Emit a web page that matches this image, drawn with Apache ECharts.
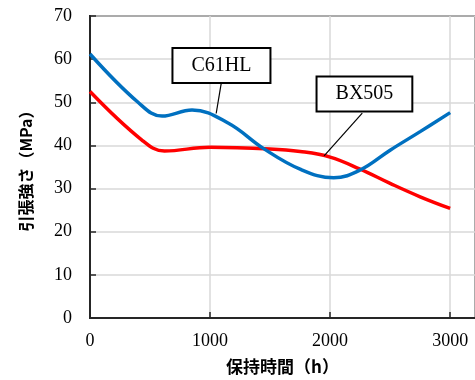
<!DOCTYPE html>
<html><head><meta charset="utf-8">
<script src="https://cdn.jsdelivr.net/npm/echarts@6/dist/echarts.min.js"></script>
<style>html,body{margin:0;padding:0;background:#fff}#c{width:475px;height:380px}</style>
</head><body><div id="c"></div>
<script>
var c61hlHours = [0, 400, 600, 850, 1150, 1450, 1750, 2030, 2250, 2500, 2750, 3000];
var c61hl      = [61.2, 50.0, 46.8, 48.2, 45.2, 39.2, 34.5, 32.5, 34.3, 38.9, 43.2, 47.6];
var bx505Hours = [0, 430, 620, 1000, 1500, 1750, 2000, 2250, 2500, 2750, 3000];
var bx505      = [52.5, 41.3, 38.7, 39.6, 39.2, 38.6, 37.3, 34.5, 31.2, 28.1, 25.4];
var seriesNames = ['C61HL', 'BX505'];
var xTicks = [0, 1000, 2000, 3000];
var yTicks = [0, 10, 20, 30, 40, 50, 60, 70];
var xTitle = '保持時間（h）';
var yTitle = '引張強さ（MPa）';
// callouts in data coordinates: box centre, leader start, leader end
var callouts = [
  {text: 'C61HL', box: [1095, 58.5], from: [1093, 54.4], to: [1051, 47.4]},
  {text: 'BX505', box: [2286, 51.9], from: [2268, 47.5], to: [1950, 37.6]}
];

var chart = echarts.init(document.getElementById('c'), null, {renderer: 'canvas'});
function pairs(xs, ys){ return xs.map(function(x,i){ return [x, ys[i]]; }); }
var serif = '"Liberation Serif", "Times New Roman", serif';
var sans = '"Noto Sans CJK JP", "Noto Sans", sans-serif';
chart.setOption({
  animation: false,
  grid: {left: 90, top: 16, width: 387, height: 302, show: true, borderColor: '#262626', borderWidth: 2, backgroundColor: 'transparent'},
  xAxis: {
    type: 'value', min: 0, max: 3207, interval: 1000,
    name: xTitle, nameLocation: 'middle', nameGap: 40,
    nameTextStyle: {fontFamily: sans, fontWeight: 'bold', fontSize: 17, color: '#000'},
    axisLine: {lineStyle: {color: '#262626', width: 2}},
    axisTick: {inside: true, length: 6, lineStyle: {color: '#262626', width: 1.5}},
    axisLabel: {fontFamily: serif, fontSize: 18, color: '#000', margin: 14, showMaxLabel: false,
      formatter: function(v){ return xTicks.indexOf(v) >= 0 ? String(v) : ''; }},
    splitLine: {show: true, lineStyle: {color: '#d9d9d9', width: 1.5}}
  },
  yAxis: {
    type: 'value', min: 0, max: 70, interval: 10,
    name: yTitle, nameLocation: 'middle', nameGap: 56, nameRotate: 90,
    nameTextStyle: {fontFamily: sans, fontWeight: 'bold', fontSize: 16, color: '#000'},
    axisLine: {show: true, lineStyle: {color: '#262626', width: 2}},
    axisTick: {show: true, inside: true, length: 6, lineStyle: {color: '#262626', width: 1.5}},
    axisLabel: {fontFamily: serif, fontSize: 18, color: '#000', margin: 18,
      formatter: function(v){ return yTicks.indexOf(v) >= 0 ? String(v) : ''; }},
    splitLine: {show: true, lineStyle: {color: '#d9d9d9', width: 1.5}}
  },
  series: [
    {name: seriesNames[0], type: 'line', data: pairs(c61hlHours, c61hl), smooth: 0.4, showSymbol: false, symbol: 'none',
     lineStyle: {color: '#0070C0', width: 3.5}, itemStyle: {color: '#0070C0'}, z: 3},
    {name: seriesNames[1], type: 'line', data: pairs(bx505Hours, bx505), smooth: 0.4, showSymbol: false, symbol: 'none',
     lineStyle: {color: '#FF0000', width: 3.5}, itemStyle: {color: '#FF0000'}, z: 2}
  ]
});

var g = [];
callouts.forEach(function(c){
  var b = chart.convertToPixel({gridIndex: 0}, c.box);
  var f = chart.convertToPixel({gridIndex: 0}, c.from);
  var t = chart.convertToPixel({gridIndex: 0}, c.to);
  g.push({type: 'line', shape: {x1: f[0], y1: f[1], x2: t[0], y2: t[1]}, style: {stroke: '#000', lineWidth: 1.2}, z: 10});
  g.push({type: 'text', x: b[0], y: b[1], z: 11,
    style: {text: c.text, font: '20px ' + serif, fill: '#000', align: 'center', verticalAlign: 'middle',
      backgroundColor: '#fff', borderColor: '#000', borderWidth: 2, padding: [7, 18, 6, 18]}});
});
chart.setOption({graphic: g});
</script>
</body></html>
